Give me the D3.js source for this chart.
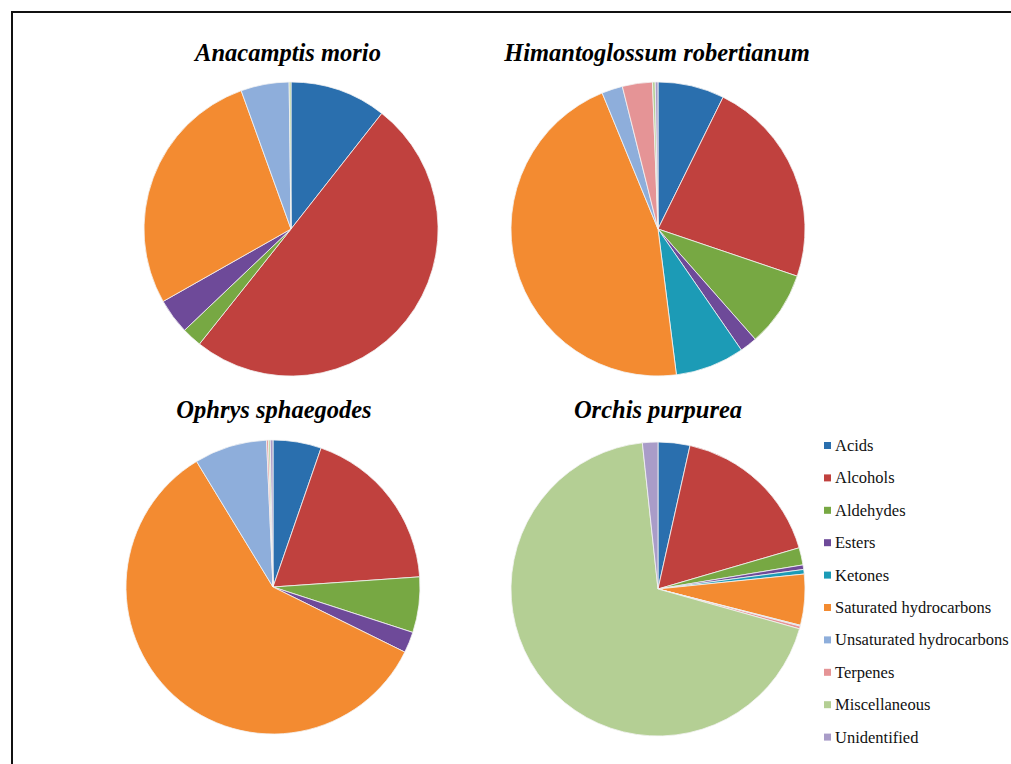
<!DOCTYPE html>
<html>
<head>
<meta charset="utf-8">
<script src="https://cdn.jsdelivr.net/npm/d3@7"></script>
<style>
  html, body { margin: 0; padding: 0; background: #fff; }
  svg { display: block; }
</style>
</head>
<body>
<svg id="chart" width="1011" height="764"></svg>
<script>
// Compound classes (legend order and slice order)
const categories = [
  "Acids", "Alcohols", "Aldehydes", "Esters", "Ketones",
  "Saturated hydrocarbons", "Unsaturated hydrocarbons", "Terpenes",
  "Miscellaneous", "Unidentified"
];
const classColors = [
  "#2a6fae", "#c0413e", "#77a843", "#6e4a99", "#1c9bb6",
  "#f38b31", "#8eaedb", "#e59496", "#b4cf94", "#a99cc8"
];

// Species names
const species = [
  "Anacamptis morio", "Himantoglossum robertianum",
  "Ophrys sphaegodes", "Orchis purpurea"
];

// Relative share (%) of each compound class per species
const anacamptisValues    = [10.6, 50.1, 2.2, 3.9, 0.0, 27.7, 5.3, 0.0, 0.2, 0.0];
const himantoglossumValues = [7.3, 22.9, 8.3, 1.9, 7.6, 45.8, 2.3, 3.3, 0.3, 0.3];
const ophrysValues        = [5.3, 18.6, 6.1, 2.3, 0.0, 59.0, 8.0, 0.2, 0.2, 0.3];
const orchisValues        = [3.5, 17.0, 1.9, 0.5, 0.5, 5.6, 0.1, 0.3, 69.0, 1.7];

const seriesValues = [anacamptisValues, himantoglossumValues, ophrysValues, orchisValues];

const svg = d3.select("#chart");

// Frame around the figure
svg.append("rect")
  .attr("x", 12).attr("y", 12)
  .attr("width", 1020).attr("height", 780)
  .attr("fill", "none")
  .attr("stroke", "#111")
  .attr("stroke-width", 2);

const color = d3.scaleOrdinal().domain(categories).range(classColors);

const pie = d3.pie()
  .sort(null)
  .value(d => d.value);

const radius = 147;
const arc = d3.arc().innerRadius(0).outerRadius(radius);

// Pie placement and title baseline for each panel
const panels = [
  { cx: 291, cy: 229, tx: 288, ty: 61 },
  { cx: 658, cy: 229, tx: 657, ty: 61 },
  { cx: 273, cy: 587, tx: 274, ty: 418 },
  { cx: 658, cy: 589, tx: 658, ty: 418 }
];

species.forEach((name, i) => {
  const p = panels[i];
  const data = categories.map((c, j) => ({ key: c, value: seriesValues[i][j] }));

  svg.append("text")
    .attr("x", p.tx)
    .attr("y", p.ty)
    .attr("text-anchor", "middle")
    .attr("font-family", "'Liberation Serif', 'Times New Roman', serif")
    .attr("font-style", "italic")
    .attr("font-weight", "bold")
    .attr("font-size", 24.5)
    .attr("fill", "#000")
    .text(name);

  const g = svg.append("g").attr("transform", `translate(${p.cx},${p.cy})`);
  g.selectAll("path")
    .data(pie(data).filter(d => d.data.value > 0))
    .join("path")
    .attr("d", arc)
    .attr("fill", d => color(d.data.key))
    .attr("stroke", "#f4f4f4")
    .attr("stroke-width", 0.8);
});

// Legend
const legend = svg.append("g").attr("transform", "translate(824,446)");
const rowStep = 32.4;
const items = legend.selectAll("g")
  .data(categories)
  .join("g")
  .attr("transform", (d, i) => `translate(0,${i * rowStep})`);

items.append("rect")
  .attr("x", 0).attr("y", -4)
  .attr("width", 7).attr("height", 7)
  .attr("fill", d => color(d));

items.append("text")
  .attr("x", 11)
  .attr("y", 5)
  .attr("font-family", "'Liberation Serif', 'Times New Roman', serif")
  .attr("font-size", 16.5)
  .attr("fill", "#111")
  .text(d => d);
</script>
</body>
</html>
